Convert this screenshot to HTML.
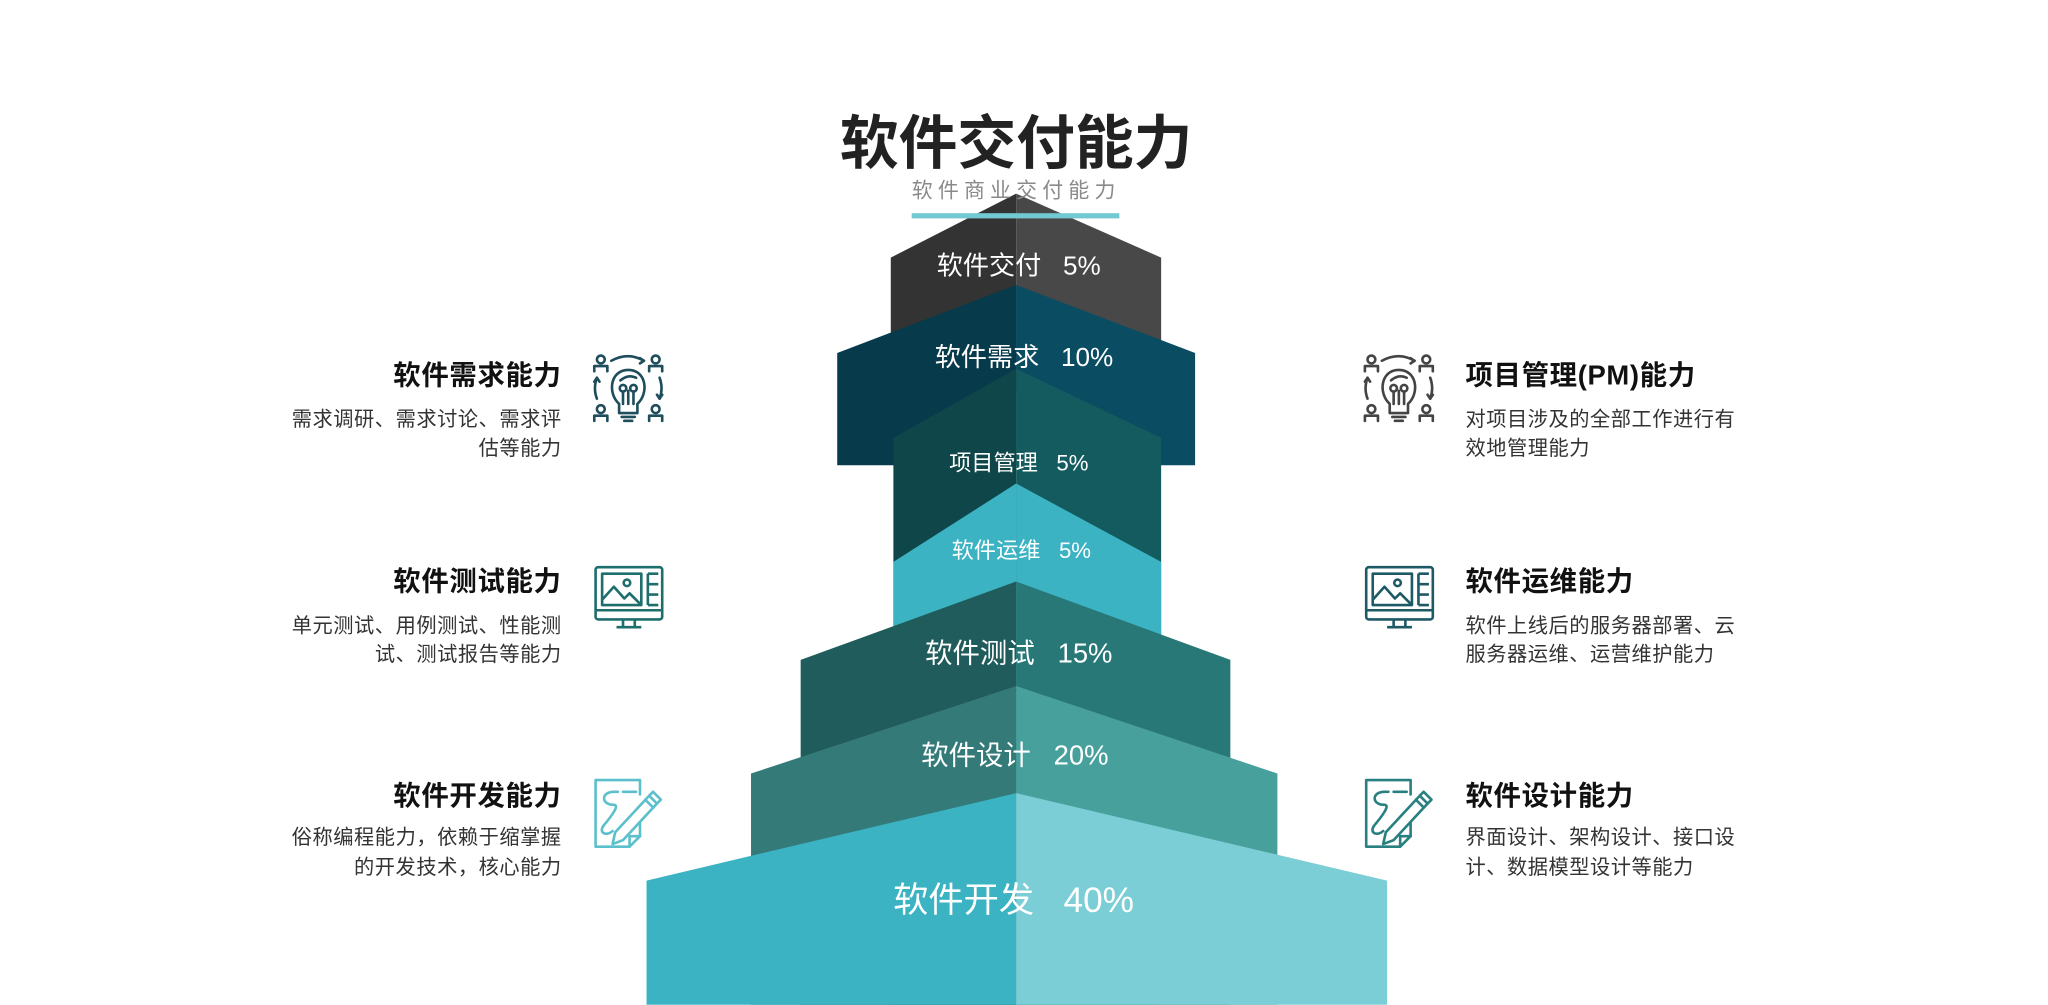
<!DOCTYPE html>
<html><head><meta charset="utf-8"><style>
html,body{margin:0;padding:0;background:#fff;}
svg{display:block;}
text{font-family:"Liberation Sans","Noto Sans CJK SC",sans-serif;white-space:pre;}
</style></head><body>
<svg width="2048" height="1005" viewBox="0 0 1568 769" xmlns="http://www.w3.org/2000/svg">
<defs>
<g id="bulb" fill="none" stroke-width="2" stroke-linecap="round" stroke-linejoin="round">
  <circle cx="5" cy="4" r="3"/><path d="M0 13v-4h10v4"/>
  <circle cx="47" cy="4" r="3"/><path d="M42 13v-4h10v4"/>
  <circle cx="5" cy="42" r="3"/><path d="M0 51v-4h10v4"/>
  <circle cx="47" cy="42" r="3"/><path d="M42 51v-4h10v4"/>
  <path d="M13 5 Q26 -2 38 5"/><path d="M35 3l3 2-3 2"/>
  <path d="M50 18 Q53 26 50 34"/><path d="M48 31l2 3 2-3"/>
  <path d="M2 34 Q-1 26 2 18"/><path d="M0 21l2-3 2 3"/>
  <path d="M19 38 C10 30 12 12 26 12 C40 12 42 30 33 38 V45 H19 Z"/>
  <path d="M21 48h10"/><path d="M23 51h6"/>
  <path d="M26 38V28"/><circle cx="22" cy="26" r="2.5"/><circle cx="30" cy="26" r="2.5"/><path d="M22 29v9M30 29v9"/>
  <path d="M20 20 Q26 15 32 18"/>
</g>
<g id="mon" fill="none" stroke-width="2" stroke-linejoin="round">
  <rect x="1" y="1" width="51" height="40" rx="2"/>
  <path d="M1 34h51"/>
  <rect x="6" y="6" width="30" height="24"/>
  <path d="M6 26l9-10 8 9 4-4 9 9"/><circle cx="25" cy="13" r="2.5"/>
  <path d="M41 6h8M41 6v24M41 14h8M41 22h8M41 30h8"/>
  <path d="M22 41v6M31 41v6M17 47h19"/>
</g>
<g id="pen" fill="none" stroke-width="2" stroke-linejoin="round" stroke-linecap="round">
  <path d="M1 1h34v11M35 34v10l-8 8H1V1"/><path d="M27 52v-8h8"/>
  <path d="M22 10h10M14 10h4M15 10 C5 10 5 20 15 20 C20 20 12 30 7 36 C3 42 10 44 14 40"/>
  <path d="M16 41l26-28 6 6-26 28-8 3z"/><path d="M39 16l6 6"/><path d="M42 13l3-3 6 6-3 3"/>
</g>
</defs>

<text x="778" y="125" text-anchor="middle" font-size="45" font-weight="bold" fill="#222">软件交付能力</text>

<polygon points="778,148 682,197 682,300 778,300" fill="#333333"/>
<polygon points="778,148 889,197 889,300 778,300" fill="#484848"/>
<text x="778" y="151" text-anchor="middle" font-size="16" letter-spacing="4" fill="#8a8a8a">软件商业交付能力</text>
<rect x="698" y="163" width="159" height="4" fill="#72c9d2"/>

<polygon points="778,218 641,270 641,356 778,356" fill="#073a4b"/>
<polygon points="778,218 915,270 915,356 778,356" fill="#0a4c62"/>
<polygon points="778,282 684,335 684,769 778,769" fill="#0f4649"/>
<polygon points="778,282 889,335 889,769 778,769" fill="#135b5e"/>
<polygon points="778,370 684,430 684,769 778,769" fill="#3bb3c2"/>
<polygon points="778,370 889,430 889,769 778,769" fill="#3bb3c2"/>
<polygon points="778,445 613,505 613,769 778,769" fill="#205c5c"/>
<polygon points="778,445 942,505 942,769 778,769" fill="#287878"/>
<polygon points="778,525 575,592 575,769 778,769" fill="#347a78"/>
<polygon points="778,525 978,592 978,769 778,769" fill="#48a09c"/>
<polygon points="778,607 495,674 495,769 778,769" fill="#3bb3c2"/>
<polygon points="778,607 1062,674 1062,769 778,769" fill="#7bcdd6"/>

<g fill="#fff" text-anchor="middle">
<text x="780" y="210" font-size="20">软件交付   5%</text>
<text x="784" y="280" font-size="20">软件需求   10%</text>
<text x="780" y="360" font-size="17">项目管理   5%</text>
<text x="782" y="427" font-size="17">软件运维   5%</text>
<text x="780" y="507" font-size="21">软件测试   15%</text>
<text x="777" y="585" font-size="21">软件设计   20%</text>
<text x="776" y="698" font-size="27">软件开发   40%</text>
</g>

<g text-anchor="end">
<text x="430" y="294" font-size="21" font-weight="bold" letter-spacing="0.5" fill="#111">软件需求能力</text>
<text x="430" y="326" font-size="15.5" letter-spacing="0.4" fill="#333">需求调研、需求讨论、需求评</text>
<text x="430" y="348" font-size="15.5" letter-spacing="0.4" fill="#333">估等能力</text>
<text x="430" y="452" font-size="21" font-weight="bold" letter-spacing="0.5" fill="#111">软件测试能力</text>
<text x="430" y="484" font-size="15.5" letter-spacing="0.4" fill="#333">单元测试、用例测试、性能测</text>
<text x="430" y="506" font-size="15.5" letter-spacing="0.4" fill="#333">试、测试报告等能力</text>
<text x="430" y="616" font-size="21" font-weight="bold" letter-spacing="0.5" fill="#111">软件开发能力</text>
<text x="430" y="646" font-size="15.5" letter-spacing="0.4" fill="#333">俗称编程能力，依赖于缩掌握</text>
<text x="430" y="669" font-size="15.5" letter-spacing="0.4" fill="#333">的开发技术，核心能力</text>
</g>
<use href="#bulb" transform="translate(455,271)" stroke="#1e4d5c"/>
<use href="#mon" transform="translate(455,433)" stroke="#1f6e6e"/>
<use href="#pen" transform="translate(455,596)" stroke="#5bc0cc"/>

<g text-anchor="start">
<text x="1122" y="294" font-size="21" font-weight="bold" letter-spacing="0.5" fill="#111">项目管理(PM)能力</text>
<text x="1122" y="326" font-size="15.5" letter-spacing="0.4" fill="#333">对项目涉及的全部工作进行有</text>
<text x="1122" y="348" font-size="15.5" letter-spacing="0.4" fill="#333">效地管理能力</text>
<text x="1122" y="452" font-size="21" font-weight="bold" letter-spacing="0.5" fill="#111">软件运维能力</text>
<text x="1122" y="484" font-size="15.5" letter-spacing="0.4" fill="#333">软件上线后的服务器部署、云</text>
<text x="1122" y="506" font-size="15.5" letter-spacing="0.4" fill="#333">服务器运维、运营维护能力</text>
<text x="1122" y="616" font-size="21" font-weight="bold" letter-spacing="0.5" fill="#111">软件设计能力</text>
<text x="1122" y="646" font-size="15.5" letter-spacing="0.4" fill="#333">界面设计、架构设计、接口设</text>
<text x="1122" y="669" font-size="15.5" letter-spacing="0.4" fill="#333">计、数据模型设计等能力</text>
</g>
<use href="#bulb" transform="translate(1045,271)" stroke="#444"/>
<use href="#mon" transform="translate(1045,433)" stroke="#1e5a66"/>
<use href="#pen" transform="translate(1045,596)" stroke="#2a8080"/>
</svg>
</body></html>
